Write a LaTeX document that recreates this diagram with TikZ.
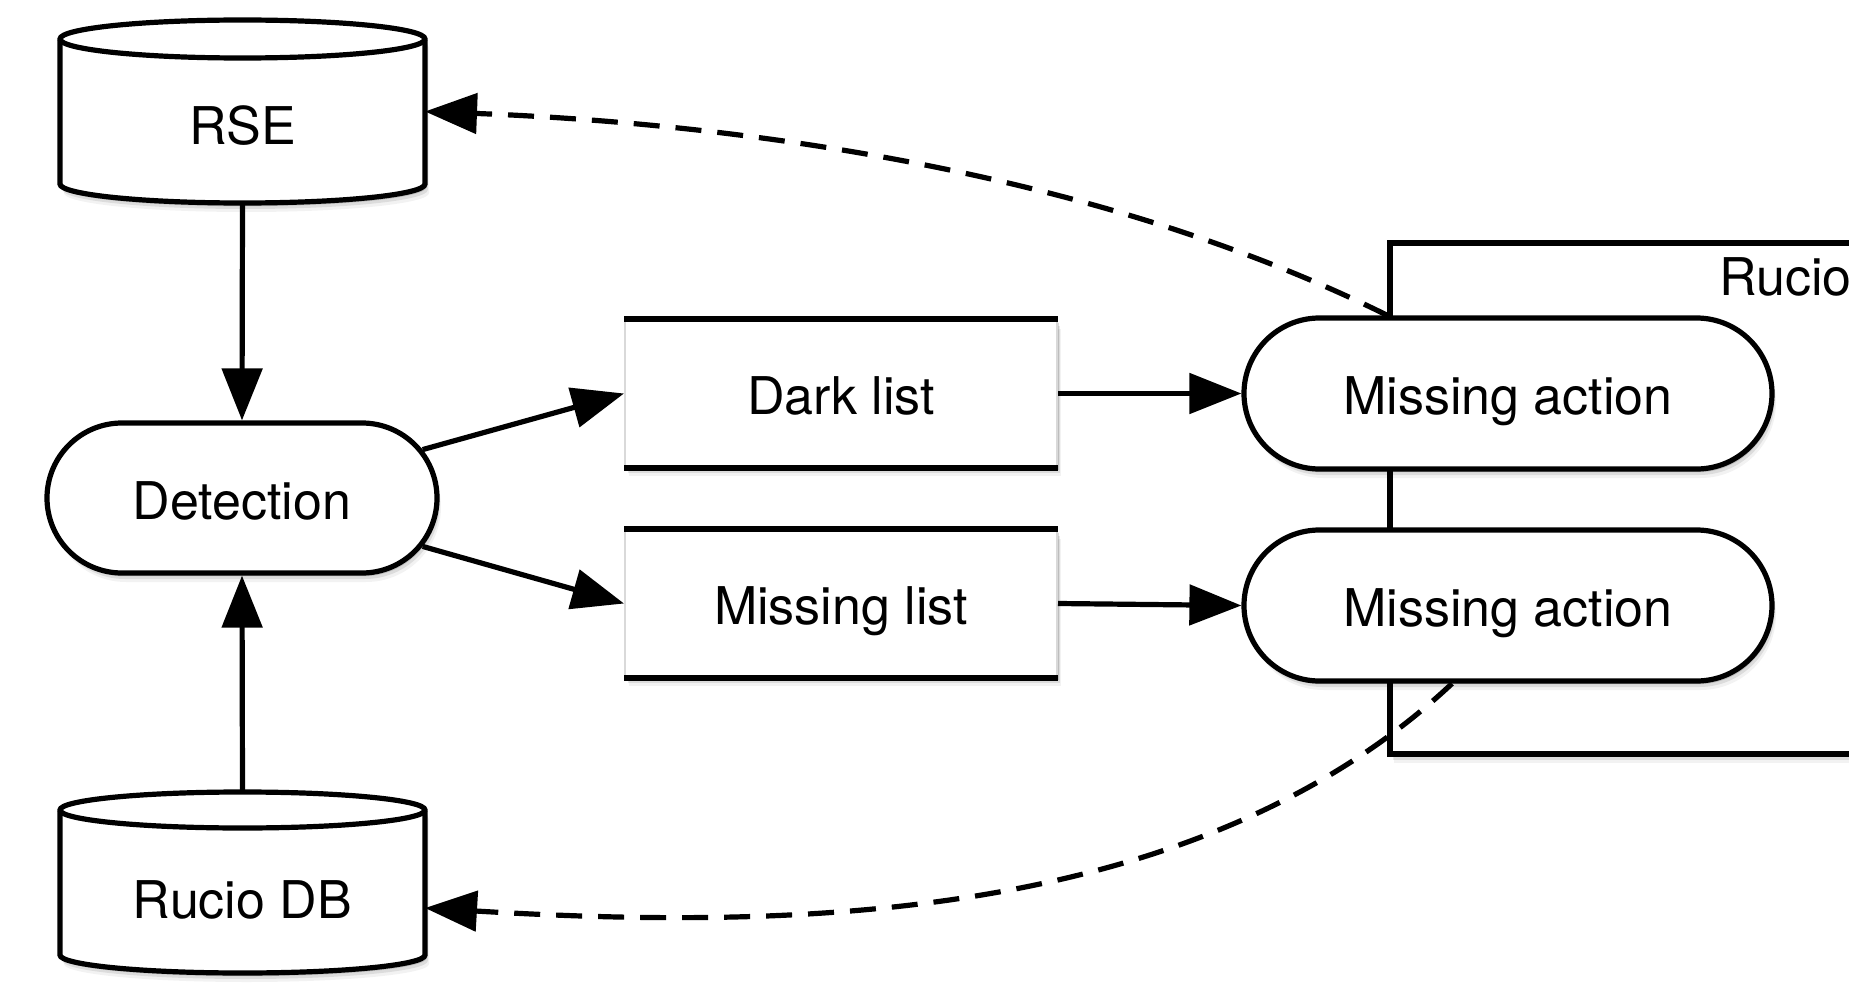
\documentclass[tikz,border=0pt]{standalone}
\usepackage{fontspec}
\setmainfont{TeX Gyre Heros}
\usetikzlibrary{arrows.meta,shapes.misc,shadows,backgrounds}
\begin{document}
\begin{tikzpicture}[x=0.5pt, y=0.5pt,
  font=\fontsize{26}{31}\selectfont,
  every node/.style={text height=21.2pt, text depth=0pt, inner sep=0pt},
  softshadow/.style={
    general shadow={shadow xshift=0.8pt, shadow yshift=-1.6pt, opacity=.14, fill=black},
    general shadow={shadow xshift=1.4pt, shadow yshift=-3pt, opacity=.09, fill=black},
    general shadow={shadow xshift=2pt, shadow yshift=-4.5pt, opacity=.05, fill=black}},
  proc/.style={rounded rectangle, draw, line width=2.6pt, fill=white, minimum height=75pt, softshadow},
  listbox/.style={rectangle, draw=black!15, line width=1pt, fill=white, minimum width=216pt, minimum height=73.5pt, softshadow},
  listedge/.style={line width=2.6pt},
  store/.style={rectangle, minimum width=182.5pt, outer sep=0pt},
  cylbody/.style={draw, line width=2.6pt, fill=white, softshadow},
  cyltop/.style={draw, line width=2.6pt},
  container/.style={rectangle, draw, line width=2.6pt, fill=white, softshadow},
  flow/.style={line width=2.6pt, -{Triangle[length=26pt, width=20pt]}},
  back/.style={flow, dash pattern=on 13pt off 8pt}
]
\path[use as bounding box, clip] (0,0) rectangle (1849,-990);

% container
\node[container, minimum width=330pt, minimum height=255.5pt] (rucio) at (1720,-498.5) {};
\node[anchor=base west] (ruciolabel) at (1719,-295) {Rucio};

% process nodes
\node[proc, minimum width=195pt] (det) at (242,-498) {Detection};
\node[proc, minimum width=264pt, minimum height=75.5pt] (act1) at (1508,-393.5) {Missing action};
\node[proc, minimum width=264pt, minimum height=75.5pt] (act2) at (1508,-605.5) {Missing action};

% lists
\node[listbox] (dark) at (841,-393.5) {Dark list};
\node[listbox] (miss) at (841,-603.5) {Missing list};
\draw[listedge] (dark.north west) -- (dark.north east);
\draw[listedge] (dark.south west) -- (dark.south east);
\draw[listedge] (miss.north west) -- (miss.north east);
\draw[listedge] (miss.south west) -- (miss.south east);

% stores
\node[store, minimum height=91.5pt, text height=33.2pt] (rse) at (242.5,-111.5) {RSE};
\node[store, minimum height=90.5pt, text height=35.7pt] (db) at (242.5,-882.5) {Rucio DB};

\begin{scope}[on background layer]
  \draw[cylbody] ([yshift=-9.5pt]rse.north west) -- ([yshift=9.5pt]rse.south west)
    arc[start angle=180, end angle=360, x radius=91.25pt, y radius=9.5pt]
    -- ([yshift=-9.5pt]rse.north east)
    arc[start angle=0, end angle=180, x radius=91.25pt, y radius=9.5pt] -- cycle;
  \draw[cyltop] ([yshift=-9.5pt]rse.north west)
    arc[start angle=180, end angle=360, x radius=91.25pt, y radius=9.5pt];
  \draw[cylbody] ([yshift=-9pt]db.north west) -- ([yshift=9pt]db.south west)
    arc[start angle=180, end angle=360, x radius=91.25pt, y radius=9pt]
    -- ([yshift=-9pt]db.north east)
    arc[start angle=0, end angle=180, x radius=91.25pt, y radius=9pt] -- cycle;
  \draw[cyltop] ([yshift=-9pt]db.north west)
    arc[start angle=180, end angle=360, x radius=91.25pt, y radius=9pt];
\end{scope}

% connectors
\draw[flow] (rse.south) -- (det.north);
\draw[flow] (db.north) -- (det.south);
\draw[flow] (det.15) -- (dark.west);
\draw[flow] (det.-15) -- (miss.west);
\draw[flow] (dark.east) -- (act1.west);
\draw[flow] (miss.east) -- (act2.west);
\draw[back] (act1.north -| rucio.west) .. controls (1090,-168) and (725,-123) .. (rse.east);
\draw[back] ([xshift=-28pt]act2.south) .. controls (1192,-927) and (778,-929) .. ([yshift=-12.75pt]db.east);
\end{tikzpicture}
\end{document}
